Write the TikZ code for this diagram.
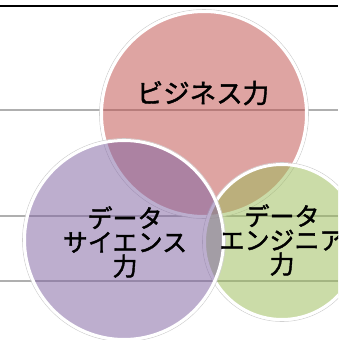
\documentclass[tikz,border=0pt]{standalone}
\usepackage{fontspec}
\newfontfamily\jpfont[FakeBold=1.6]{Noto Sans CJK JP}
\definecolor{cred}{HTML}{C0504D}
\definecolor{cpurple}{HTML}{8064A2}
\definecolor{cgreen}{HTML}{9BBB59}
\definecolor{gridgray}{RGB}{175,175,175}
\tikzset{
  gridline/.style={draw=gridgray, line width=1.3pt},
  topline/.style={draw=black, line width=1.8pt},
  bubble/.style={fill=#1, fill opacity=0.52, draw=white, draw opacity=1, line width=3pt},
  halo/.style={draw=black!18, line width=0.6pt},
  label/.style={font=\jpfont\fontsize{25}{24}\selectfont, align=center, text=black, inner sep=0pt}
}
\begin{document}
\begin{tikzpicture}[x=1pt,y=-1pt]
\useasboundingbox (0,0) rectangle (338,340);
\clip (0,0) rectangle (338,340);
% background lines
\coordinate (t0) at (0,6);   \coordinate (t1) at (338,6);
\coordinate (g0) at (0,110); \coordinate (g1) at (338,110);
\coordinate (h0) at (0,216); \coordinate (h1) at (338,216);
\coordinate (k0) at (0,281); \coordinate (k1) at (338,281);
\draw[topline] (t0) -- (t1);
\draw[gridline] (g0) -- (g1);
\draw[gridline] (h0) -- (h1);
\draw[gridline] (k0) -- (k1);
% circles: red, green, purple
\coordinate (cR) at (204,114);
\coordinate (cG) at (282,242);
\coordinate (cP) at (124,240);
\draw[halo] (cR) circle (104.5);
\draw[bubble=cred] (cR) circle (102.5);
\draw[halo] (cG) circle (79.5);
\draw[bubble=cgreen] (cG) circle (77.5);
\draw[halo] (cP) circle (101.5);
\draw[bubble=cpurple] (cP) circle (99.5);
% labels
\node[label, font=\jpfont\fontsize{26.5}{24}\selectfont] (lR) at (203,93) {ビジネス力};
\node[label] (lP) at (125,242) {データ\\サイエンス\\力};
\node[label] (lG) at (282,240) {データ\\エンジニア\\力};
\end{tikzpicture}
\end{document}
